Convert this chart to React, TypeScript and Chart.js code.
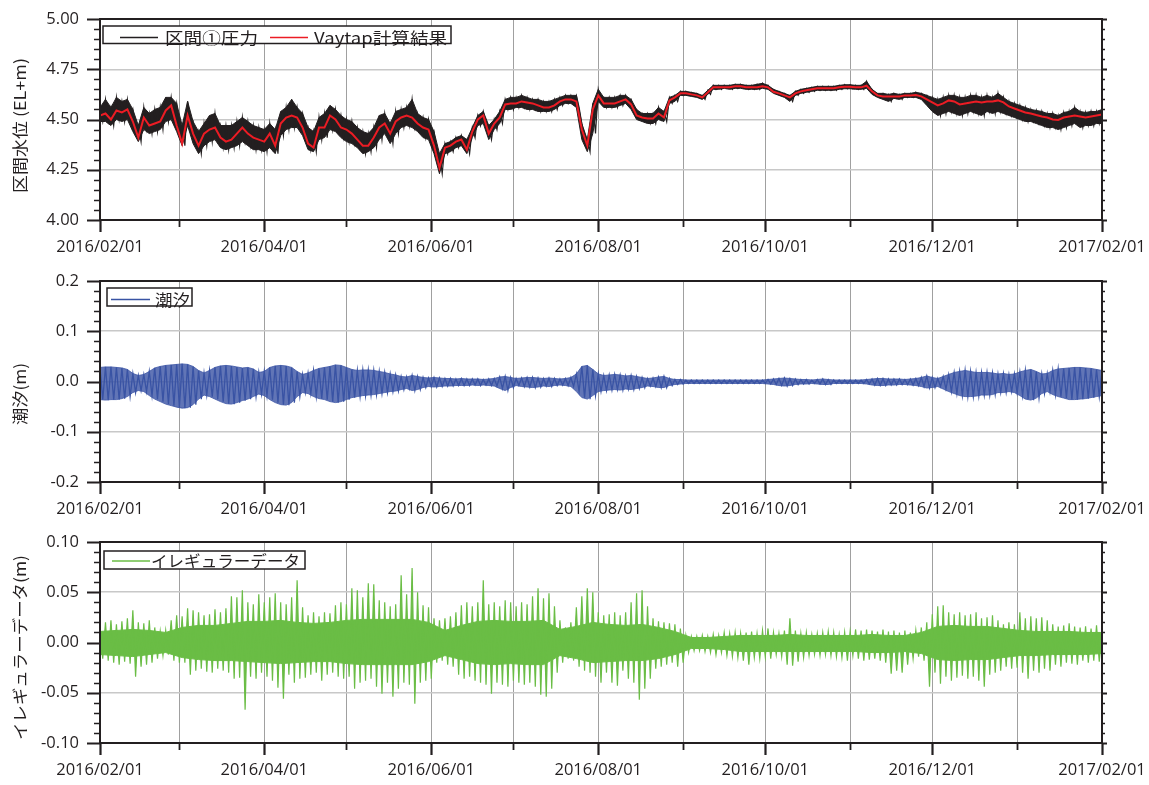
import React, { useEffect, useRef } from 'react';
import { Chart, registerables } from 'chart.js';

Chart.register(...registerables);

// ---------------- DATA ----------------
// Series are sampled in 2-day buckets starting 2016/02/01 (day 0).
const BUCKET_DAYS = 2;
// The dense core of the irregular data is read in 6-day buckets.
const CORE_BUCKET_DAYS = 6;

// x axis: month starts (days since 2016/02/01) and their labels
const monthDays = [0, 29, 60, 90, 121, 151, 182, 213, 243, 274, 304, 335, 366];
const monthLabels = ['2016/02/01', '', '2016/04/01', '', '2016/06/01', '', '2016/08/01', '', '2016/10/01', '', '2016/12/01', '', '2017/02/01'];

// y axes ticks
const pressureTicks = [4.0, 4.25, 4.5, 4.75, 5.0];
const pressureTickLabels = ['4.00', '4.25', '4.50', '4.75', '5.00'];
const tideTicks = [-0.2, -0.1, 0, 0.1, 0.2];
const tideTickLabels = ['-0.2', '-0.1', '0.0', '0.1', '0.2'];
const irregularTicks = [-0.1, -0.05, 0, 0.05, 0.1];
const irregularTickLabels = ['-0.10', '-0.05', '0.00', '0.05', '0.10'];

// Panel 1: Vaytap計算結果 (red)
const vaytapResult = [
  4.52, 4.53, 4.50, 4.545, 4.535, 4.55, 4.49, 4.41, 4.51, 4.47,
  4.48, 4.49, 4.545, 4.57, 4.47, 4.38, 4.52, 4.43, 4.37, 4.43,
  4.45, 4.46, 4.41, 4.39, 4.40, 4.43, 4.46, 4.43, 4.41, 4.40,
  4.39, 4.43, 4.37, 4.48, 4.51, 4.52, 4.51, 4.46, 4.38, 4.36,
  4.46, 4.46, 4.52, 4.50, 4.46, 4.45, 4.43, 4.40, 4.37, 4.37,
  4.41, 4.46, 4.48, 4.43, 4.49, 4.51, 4.52, 4.51, 4.48, 4.46,
  4.45, 4.37, 4.26, 4.36, 4.37, 4.39, 4.40, 4.35, 4.44, 4.50,
  4.52, 4.43, 4.48, 4.51, 4.575, 4.58, 4.58, 4.59, 4.585, 4.58,
  4.57, 4.56, 4.56, 4.57, 4.59, 4.60, 4.60, 4.59, 4.45, 4.37,
  4.55, 4.62, 4.58, 4.58, 4.58, 4.59, 4.60, 4.575, 4.52, 4.51,
  4.505, 4.505, 4.53, 4.51, 4.595, 4.61, 4.63, 4.63, 4.625, 4.62,
  4.61, 4.635, 4.66, 4.66, 4.66, 4.66, 4.665, 4.665, 4.66, 4.66,
  4.66, 4.665, 4.66, 4.638, 4.63, 4.62, 4.61, 4.63, 4.64, 4.645,
  4.65, 4.655, 4.655, 4.655, 4.655, 4.66, 4.663, 4.663, 4.66, 4.66,
  4.668, 4.64, 4.62, 4.615, 4.615, 4.615, 4.615, 4.62, 4.62, 4.622,
  4.615, 4.60, 4.585, 4.57, 4.58, 4.595, 4.59, 4.575, 4.58, 4.585,
  4.59, 4.585, 4.59, 4.59, 4.595, 4.585, 4.565, 4.555, 4.545, 4.535,
  4.53, 4.522, 4.515, 4.51, 4.50, 4.498, 4.51, 4.515, 4.52, 4.515,
  4.51, 4.515, 4.52, 4.525,
];

// Panel 1: 区間①圧力 (black) – bucket maxima and minima
const pressureMax = [
  4.56, 4.60, 4.56, 4.61, 4.59, 4.60, 4.55, 4.47, 4.56, 4.53,
  4.55, 4.56, 4.61, 4.61, 4.58, 4.47, 4.59, 4.49, 4.44, 4.48,
  4.52, 4.53, 4.47, 4.47, 4.47, 4.49, 4.51, 4.49, 4.47, 4.46,
  4.45, 4.48, 4.45, 4.54, 4.56, 4.60, 4.56, 4.53, 4.46, 4.44,
  4.51, 4.53, 4.57, 4.55, 4.52, 4.50, 4.49, 4.46, 4.44, 4.43,
  4.46, 4.52, 4.53, 4.48, 4.54, 4.55, 4.56, 4.60, 4.53, 4.51,
  4.50, 4.44, 4.33, 4.38, 4.39, 4.41, 4.42, 4.40, 4.46, 4.52,
  4.54, 4.47, 4.50, 4.54, 4.60, 4.61, 4.61, 4.62, 4.61, 4.60,
  4.60, 4.59, 4.59, 4.60, 4.61, 4.62, 4.62, 4.62, 4.48, 4.40,
  4.58, 4.65, 4.61, 4.61, 4.61, 4.62, 4.62, 4.60, 4.55, 4.53,
  4.53, 4.53, 4.56, 4.54, 4.61, 4.62, 4.64, 4.64, 4.635, 4.63,
  4.62, 4.645, 4.67, 4.67, 4.67, 4.67, 4.675, 4.675, 4.67, 4.67,
  4.675, 4.68, 4.67, 4.65, 4.64, 4.63, 4.62, 4.64, 4.65, 4.655,
  4.66, 4.665, 4.665, 4.665, 4.665, 4.67, 4.673, 4.673, 4.67, 4.67,
  4.69, 4.65, 4.63, 4.63, 4.625, 4.63, 4.625, 4.63, 4.63, 4.635,
  4.63, 4.62, 4.61, 4.60, 4.61, 4.62, 4.62, 4.61, 4.61, 4.62,
  4.62, 4.61, 4.62, 4.61, 4.63, 4.61, 4.59, 4.58, 4.57, 4.56,
  4.55, 4.545, 4.54, 4.53, 4.53, 4.52, 4.535, 4.54, 4.56, 4.54,
  4.535, 4.54, 4.54, 4.55,
];
const pressureMin = [
  4.49, 4.49, 4.47, 4.50, 4.49, 4.50, 4.44, 4.39, 4.45, 4.43,
  4.44, 4.45, 4.49, 4.50, 4.44, 4.37, 4.47, 4.38, 4.33, 4.37,
  4.39, 4.40, 4.36, 4.35, 4.36, 4.37, 4.39, 4.37, 4.35, 4.35,
  4.34, 4.36, 4.33, 4.42, 4.45, 4.46, 4.46, 4.42, 4.35, 4.34,
  4.40, 4.41, 4.45, 4.44, 4.41, 4.39, 4.38, 4.36, 4.33, 4.34,
  4.36, 4.40, 4.43, 4.38, 4.43, 4.46, 4.47, 4.46, 4.44, 4.41,
  4.40, 4.33, 4.23, 4.33, 4.34, 4.36, 4.37, 4.33, 4.41, 4.47,
  4.48, 4.40, 4.45, 4.48, 4.55, 4.55, 4.56, 4.56, 4.55, 4.55,
  4.54, 4.54, 4.54, 4.55, 4.57, 4.58, 4.58, 4.56, 4.40, 4.34,
  4.43, 4.59, 4.56, 4.56, 4.56, 4.57, 4.58, 4.55, 4.50, 4.49,
  4.48, 4.48, 4.50, 4.49, 4.58, 4.59, 4.62, 4.62, 4.615, 4.61,
  4.60, 4.625, 4.65, 4.65, 4.655, 4.65, 4.655, 4.655, 4.65, 4.65,
  4.65, 4.655, 4.65, 4.63, 4.62, 4.61, 4.59, 4.62, 4.63, 4.635,
  4.64, 4.645, 4.645, 4.645, 4.645, 4.65, 4.653, 4.653, 4.65, 4.65,
  4.655, 4.625, 4.61, 4.60, 4.59, 4.605, 4.60, 4.61, 4.61, 4.61,
  4.60, 4.57, 4.54, 4.52, 4.53, 4.54, 4.53, 4.52, 4.53, 4.54,
  4.53, 4.52, 4.54, 4.53, 4.54, 4.53, 4.52, 4.51, 4.50, 4.49,
  4.49, 4.48, 4.47, 4.46, 4.46, 4.45, 4.46, 4.47, 4.48, 4.46,
  4.47, 4.47, 4.48, 4.48,
];

// Panel 2: 潮汐 – bucket high / low water
const tideHigh = [
  0.028, 0.029, 0.029, 0.028, 0.027, 0.024, 0.016, 0.012, 0.014, 0.020,
  0.027, 0.030, 0.032, 0.033, 0.034, 0.035, 0.034, 0.030, 0.022, 0.017,
  0.022, 0.028, 0.031, 0.032, 0.031, 0.029, 0.027, 0.028, 0.025, 0.018,
  0.020, 0.028, 0.031, 0.032, 0.031, 0.028, 0.020, 0.014, 0.017, 0.022,
  0.026, 0.028, 0.030, 0.033, 0.032, 0.028, 0.024, 0.022, 0.023, 0.023,
  0.022, 0.020, 0.018, 0.015, 0.013, 0.010, 0.009, 0.012, 0.010, 0.008,
  0.007, 0.008, 0.007, 0.006, 0.006, 0.005, 0.006, 0.005, 0.005, 0.005,
  0.004, 0.005, 0.006, 0.009, 0.010, 0.008, 0.006, 0.007, 0.008, 0.008,
  0.007, 0.006, 0.007, 0.006, 0.005, 0.006, 0.008, 0.015, 0.030, 0.032,
  0.024, 0.015, 0.012, 0.013, 0.014, 0.013, 0.011, 0.012, 0.010, 0.008,
  0.006, 0.007, 0.009, 0.010, 0.006, 0.004, 0.004, 0.003, 0.003, 0.003,
  0.003, 0.003, 0.003, 0.003, 0.003, 0.003, 0.003, 0.003, 0.003, 0.003,
  0.003, 0.003, 0.004, 0.005, 0.006, 0.007, 0.006, 0.005, 0.004, 0.004,
  0.003, 0.004, 0.005, 0.004, 0.003, 0.003, 0.003, 0.003, 0.003, 0.003,
  0.004, 0.005, 0.006, 0.006, 0.005, 0.005, 0.005, 0.004, 0.005, 0.006,
  0.008, 0.011, 0.008, 0.006, 0.010, 0.014, 0.018, 0.020, 0.022, 0.020,
  0.018, 0.018, 0.018, 0.017, 0.015, 0.016, 0.014, 0.015, 0.019, 0.022,
  0.024, 0.020, 0.015, 0.016, 0.022, 0.025, 0.026, 0.027, 0.028, 0.028,
  0.027, 0.026, 0.024, 0.022,
];
const tideLow = [
  -0.036, -0.037, -0.036, -0.036, -0.034, -0.030, -0.022, -0.018, -0.020, -0.028,
  -0.035, -0.040, -0.045, -0.048, -0.051, -0.053, -0.052, -0.046, -0.035, -0.027,
  -0.030, -0.035, -0.040, -0.044, -0.045, -0.042, -0.038, -0.035, -0.030, -0.025,
  -0.028, -0.036, -0.042, -0.046, -0.047, -0.042, -0.030, -0.022, -0.024, -0.030,
  -0.034, -0.036, -0.040, -0.042, -0.040, -0.036, -0.032, -0.030, -0.028, -0.027,
  -0.026, -0.024, -0.022, -0.020, -0.019, -0.016, -0.014, -0.018, -0.016, -0.012,
  -0.010, -0.011, -0.010, -0.009, -0.009, -0.008, -0.008, -0.008, -0.007, -0.008,
  -0.007, -0.008, -0.009, -0.014, -0.018, -0.012, -0.008, -0.010, -0.011, -0.012,
  -0.011, -0.009, -0.010, -0.008, -0.007, -0.008, -0.010, -0.020, -0.032, -0.035,
  -0.028, -0.020, -0.018, -0.017, -0.016, -0.017, -0.015, -0.016, -0.014, -0.012,
  -0.009, -0.010, -0.012, -0.012, -0.008, -0.006, -0.005, -0.004, -0.004, -0.004,
  -0.004, -0.004, -0.004, -0.004, -0.004, -0.004, -0.004, -0.004, -0.004, -0.004,
  -0.004, -0.004, -0.005, -0.006, -0.008, -0.009, -0.008, -0.006, -0.005, -0.005,
  -0.004, -0.005, -0.006, -0.006, -0.004, -0.004, -0.004, -0.004, -0.004, -0.004,
  -0.005, -0.007, -0.008, -0.008, -0.007, -0.007, -0.006, -0.006, -0.007, -0.008,
  -0.010, -0.013, -0.012, -0.010, -0.015, -0.020, -0.024, -0.028, -0.030, -0.030,
  -0.029, -0.027, -0.027, -0.026, -0.022, -0.022, -0.020, -0.022, -0.028, -0.035,
  -0.037, -0.033, -0.024, -0.020, -0.026, -0.030, -0.033, -0.036, -0.036, -0.035,
  -0.034, -0.032, -0.030, -0.028,
];

// Panel 3: イレギュラーデータ – bucket maxima / minima (spikes)
const irregularHigh = [
  0.012, 0.020, 0.022, 0.018, 0.021, 0.024, 0.032, 0.020, 0.019, 0.022,
  0.015, 0.011, 0.012, 0.022, 0.027, 0.026, 0.034, 0.032, 0.030, 0.027,
  0.028, 0.033, 0.030, 0.034, 0.046, 0.045, 0.052, 0.040, 0.038, 0.048,
  0.040, 0.045, 0.049, 0.040, 0.038, 0.045, 0.062, 0.035, 0.027, 0.030,
  0.026, 0.030, 0.029, 0.037, 0.040, 0.038, 0.054, 0.052, 0.045, 0.059,
  0.058, 0.042, 0.040, 0.036, 0.038, 0.067, 0.048, 0.074, 0.050, 0.037,
  0.035, 0.024, 0.022, 0.024, 0.026, 0.030, 0.037, 0.040, 0.036, 0.040,
  0.062, 0.038, 0.040, 0.036, 0.042, 0.040, 0.036, 0.040, 0.038, 0.046,
  0.054, 0.044, 0.049, 0.036, 0.022, 0.015, 0.020, 0.035, 0.046, 0.054,
  0.050, 0.030, 0.027, 0.028, 0.030, 0.027, 0.030, 0.040, 0.049, 0.052,
  0.036, 0.024, 0.021, 0.020, 0.019, 0.018, 0.014, 0.007, 0.006, 0.006,
  0.007, 0.006, 0.008, 0.007, 0.010, 0.009, 0.010, 0.009, 0.010, 0.011,
  0.009, 0.012, 0.014, 0.010, 0.009, 0.012, 0.024, 0.012, 0.009, 0.010,
  0.008, 0.009, 0.010, 0.011, 0.010, 0.008, 0.010, 0.011, 0.013, 0.012,
  0.013, 0.012, 0.011, 0.013, 0.011, 0.012, 0.010, 0.012, 0.010, 0.012,
  0.015, 0.020, 0.028, 0.036, 0.037, 0.030, 0.028, 0.030, 0.027, 0.028,
  0.030, 0.024, 0.025, 0.027, 0.022, 0.018, 0.020, 0.018, 0.030, 0.024,
  0.026, 0.024, 0.025, 0.022, 0.018, 0.016, 0.017, 0.019, 0.016, 0.015,
  0.016, 0.014, 0.017, 0.012,
];
const irregularLow = [
  -0.016, -0.018, -0.020, -0.022, -0.019, -0.021, -0.034, -0.024, -0.022, -0.020,
  -0.016, -0.013, -0.012, -0.018, -0.020, -0.020, -0.032, -0.028, -0.026, -0.029,
  -0.030, -0.026, -0.028, -0.030, -0.036, -0.035, -0.067, -0.034, -0.036, -0.030,
  -0.034, -0.038, -0.045, -0.056, -0.032, -0.040, -0.036, -0.035, -0.032, -0.030,
  -0.038, -0.032, -0.030, -0.034, -0.036, -0.034, -0.046, -0.040, -0.038, -0.036,
  -0.044, -0.051, -0.040, -0.054, -0.046, -0.040, -0.042, -0.061, -0.040, -0.038,
  -0.036, -0.020, -0.018, -0.022, -0.024, -0.032, -0.036, -0.034, -0.038, -0.040,
  -0.042, -0.051, -0.040, -0.042, -0.044, -0.038, -0.040, -0.042, -0.040, -0.044,
  -0.052, -0.054, -0.046, -0.030, -0.020, -0.016, -0.018, -0.024, -0.028, -0.030,
  -0.034, -0.040, -0.030, -0.040, -0.043, -0.028, -0.036, -0.040, -0.057, -0.046,
  -0.036, -0.026, -0.024, -0.022, -0.020, -0.024, -0.020, -0.010, -0.008, -0.008,
  -0.009, -0.010, -0.012, -0.010, -0.013, -0.014, -0.015, -0.018, -0.022, -0.015,
  -0.016, -0.014, -0.016, -0.012, -0.014, -0.022, -0.023, -0.019, -0.015, -0.013,
  -0.012, -0.013, -0.012, -0.013, -0.014, -0.015, -0.018, -0.013, -0.016, -0.018,
  -0.017, -0.016, -0.018, -0.020, -0.031, -0.028, -0.030, -0.022, -0.016, -0.014,
  -0.018, -0.044, -0.030, -0.041, -0.034, -0.038, -0.035, -0.033, -0.036, -0.034,
  -0.038, -0.044, -0.032, -0.030, -0.028, -0.024, -0.026, -0.025, -0.030, -0.036,
  -0.028, -0.030, -0.026, -0.028, -0.022, -0.024, -0.020, -0.021, -0.022, -0.018,
  -0.020, -0.018, -0.019, -0.016,
];
// Panel 3: dense core of the irregular data (6-day buckets)
const irregularCoreHigh = [
  0.011, 0.012, 0.013, 0.012, 0.010, 0.015, 0.017, 0.017, 0.019, 0.021,
  0.021, 0.022, 0.020, 0.019, 0.020, 0.022, 0.023, 0.023, 0.023, 0.023,
  0.020, 0.012, 0.017, 0.021, 0.022, 0.021, 0.021, 0.022, 0.013, 0.016,
  0.020, 0.018, 0.017, 0.018, 0.015, 0.011, 0.005, 0.005, 0.006, 0.007,
  0.007, 0.007, 0.008, 0.007, 0.007, 0.007, 0.007, 0.008, 0.007, 0.007,
  0.010, 0.016, 0.017, 0.016, 0.016, 0.014, 0.012, 0.011, 0.011, 0.011,
  0.010, 0.010,
];
const irregularCoreLow = [
  -0.012, -0.013, -0.014, -0.012, -0.010, -0.015, -0.017, -0.018, -0.018, -0.019,
  -0.020, -0.021, -0.020, -0.019, -0.019, -0.021, -0.022, -0.022, -0.022, -0.022,
  -0.019, -0.013, -0.017, -0.021, -0.022, -0.021, -0.022, -0.022, -0.013, -0.016,
  -0.020, -0.019, -0.018, -0.018, -0.016, -0.012, -0.006, -0.006, -0.007, -0.009,
  -0.009, -0.009, -0.009, -0.009, -0.009, -0.009, -0.009, -0.010, -0.010, -0.009,
  -0.011, -0.017, -0.018, -0.017, -0.017, -0.015, -0.013, -0.013, -0.012, -0.012,
  -0.012, -0.011,
];

// ---------------- STYLE ----------------
const INK = '#231f20';
const RED = '#ec1c24';
const BLUE = '#3953a4';
const BLUE_FILL = 'rgba(57,83,164,0.8)';
const GREEN = '#6abd45';
const TICK_FONT = { family: '"Open Sans", "DejaVu Sans", sans-serif', size: 16.5 };
const JP_FONT = '16px "Noto Sans CJK JP", "Noto Sans", sans-serif';

type Point = { x: number; y: number };
const asLine = (vals: number[], step: number = BUCKET_DAYS): Point[] => vals.map((v, k) => ({ x: k * step, y: v }));
const asEnvelope = (hi: number[], lo: number[]): Point[] =>
  hi.flatMap((h, k) => [
    { x: k * BUCKET_DAYS, y: h },
    { x: k * BUCKET_DAYS + BUCKET_DAYS / 2, y: lo[k] },
  ]);

const bandEdge = (data: Point[], color: string, fill: any) => ({
  data,
  borderColor: color,
  backgroundColor: color,
  borderWidth: 1,
  pointRadius: 0,
  fill,
});

type LegendItem = { color: string; lineFrom: number; lineTo: number; text: string; textX: number; textW: number };
type PanelSpec = {
  top: number;
  height: number;
  yMin: number;
  yMax: number;
  yTicks: number[];
  yTickLabels: string[];
  minorCount: number;
  minorPerMajor: number;
  title: string;
  titleCenterY: number;
  titleLength: number;
  legendBox: [number, number, number, number];
  legendY: number;
  legend: LegendItem[];
  datasets: any[];
};

const panels: PanelSpec[] = [
  {
    top: 0,
    height: 262,
    yMin: 4,
    yMax: 5,
    yTicks: pressureTicks,
    yTickLabels: pressureTickLabels,
    minorCount: 20,
    minorPerMajor: 5,
    title: '区間水位 (EL+m)',
    titleCenterY: 125.5,
    titleLength: 135,
    legendBox: [103, 26, 451, 43.5],
    legendY: 37.5,
    legend: [
      { color: INK, lineFrom: 120, lineTo: 158, text: '区間①圧力', textX: 165, textW: 93 },
      { color: RED, lineFrom: 270, lineTo: 308, text: 'Vaytap計算結果', textX: 314, textW: 133 },
    ],
    datasets: [
      { data: asLine(vaytapResult), borderColor: RED, borderWidth: 2, pointRadius: 0, fill: false },
      { data: asEnvelope(pressureMax, pressureMin), borderColor: INK, borderWidth: 1.2, pointRadius: 0, fill: false },
      bandEdge(asLine(pressureMax), INK, '+1'),
      bandEdge(asLine(pressureMin), INK, false),
    ],
  },
  {
    top: 262,
    height: 261,
    yMin: -0.2,
    yMax: 0.2,
    yTicks: tideTicks,
    yTickLabels: tideTickLabels,
    minorCount: 20,
    minorPerMajor: 5,
    title: '潮汐(m)',
    titleCenterY: 132,
    titleLength: 62,
    legendBox: [107, 26, 192, 44],
    legendY: 37.5,
    legend: [{ color: BLUE, lineFrom: 111, lineTo: 150, text: '潮汐', textX: 155, textW: 35 }],
    datasets: [
      { data: asEnvelope(tideHigh, tideLow), borderColor: BLUE, borderWidth: 1.3, pointRadius: 0, fill: false },
      bandEdge(asLine(tideHigh), BLUE_FILL, '+1'),
      bandEdge(asLine(tideLow), BLUE_FILL, false),
    ],
  },
  {
    top: 523,
    height: 262,
    yMin: -0.1,
    yMax: 0.1,
    yTicks: irregularTicks,
    yTickLabels: irregularTickLabels,
    minorCount: 20,
    minorPerMajor: 5,
    title: 'イレギュラーデータ(m)',
    titleCenterY: 124.5,
    titleLength: 185,
    legendBox: [104, 28, 305, 46],
    legendY: 38,
    legend: [{ color: GREEN, lineFrom: 112, lineTo: 150, text: 'イレギュラーデータ', textX: 151, textW: 149 }],
    datasets: [
      {
        data: asEnvelope(irregularHigh, irregularLow),
        borderColor: GREEN,
        backgroundColor: GREEN,
        borderWidth: 1.2,
        pointRadius: 0,
        fill: { target: 'origin', above: GREEN, below: GREEN },
      },
      bandEdge(asLine(irregularCoreHigh, CORE_BUCKET_DAYS), GREEN, '+1'),
      bandEdge(asLine(irregularCoreLow, CORE_BUCKET_DAYS), GREEN, false),
    ],
  },
];

function drawStretchedText(ctx: CanvasRenderingContext2D, text: string, x: number, y: number, width: number, align: 'left' | 'center') {
  ctx.font = JP_FONT;
  const natural = ctx.measureText(text).width || 1;
  const sx = width / natural;
  ctx.save();
  ctx.translate(x, y);
  ctx.scale(sx, 1);
  ctx.textAlign = align;
  ctx.textBaseline = 'middle';
  ctx.fillStyle = INK;
  ctx.fillText(text, 0, 0);
  ctx.restore();
}

function makeDecor(p: PanelSpec) {
  return {
    id: 'decor',
    afterDatasetsDraw(chart: any) {
      const { ctx, chartArea: a, scales } = chart;
      const ys = scales.y;
      const xs = scales.x;
      ctx.save();
      ctx.strokeStyle = INK;
      ctx.lineCap = 'butt';
      for (let i = 0; i <= p.minorCount; i++) {
        const v = p.yMin + (i * (p.yMax - p.yMin)) / p.minorCount;
        const py = Math.round(ys.getPixelForValue(v)) + 0.5;
        const major = i % p.minorPerMajor === 0;
        ctx.lineWidth = major ? 2 : 1.6;
        ctx.beginPath();
        ctx.moveTo(a.left - (major ? 13 : 6), py);
        ctx.lineTo(a.left, py);
        ctx.moveTo(a.right, py);
        ctx.lineTo(a.right + (major ? 5 : 3), py);
        ctx.stroke();
      }
      monthDays.forEach((d, i) => {
        const px = Math.round(xs.getPixelForValue(d)) + 0.5;
        ctx.lineWidth = monthLabels[i] ? 2.2 : 1.8;
        ctx.beginPath();
        ctx.moveTo(px, a.bottom);
        ctx.lineTo(px, a.bottom + (monthLabels[i] ? 12 : 7));
        ctx.stroke();
      });
      ctx.lineWidth = 2;
      ctx.strokeRect(a.left, a.top, a.right - a.left, a.bottom - a.top);

      const [bx0, by0, bx1, by1] = p.legendBox;
      ctx.fillStyle = '#ffffff';
      ctx.fillRect(bx0, by0, bx1 - bx0, by1 - by0);
      ctx.lineWidth = 1.5;
      ctx.strokeStyle = INK;
      ctx.strokeRect(bx0, by0, bx1 - bx0, by1 - by0);
      p.legend.forEach((it) => {
        ctx.strokeStyle = it.color;
        ctx.lineWidth = 1.6;
        ctx.beginPath();
        ctx.moveTo(it.lineFrom, p.legendY);
        ctx.lineTo(it.lineTo, p.legendY);
        ctx.stroke();
        drawStretchedText(ctx, it.text, it.textX, p.legendY, it.textW, 'left');
      });

      ctx.save();
      ctx.translate(20, p.titleCenterY);
      ctx.rotate(-Math.PI / 2);
      drawStretchedText(ctx, p.title, 0, 0, p.titleLength, 'center');
      ctx.restore();
      ctx.restore();
    },
  };
}

function buildConfig(p: PanelSpec): any {
  return {
    type: 'line',
    data: { datasets: p.datasets },
    options: {
      responsive: false,
      animation: false,
      devicePixelRatio: 1,
      events: [],
      layout: { padding: { top: 19, right: 47, left: 0, bottom: 0 } },
      elements: { line: { tension: 0 }, point: { radius: 0 } },
      plugins: { legend: { display: false }, tooltip: { enabled: false }, title: { display: false } },
      scales: {
        x: {
          type: 'linear',
          min: 0,
          max: 366,
          afterBuildTicks: (s: any) => {
            s.ticks = monthDays.map((v) => ({ value: v }));
          },
          afterFit: (s: any) => {
            s.height = p.height - 220;
            s.paddingLeft = 0;
            s.paddingRight = 0;
            s.paddingTop = 0;
            s.paddingBottom = 0;
          },
          ticks: {
            autoSkip: false,
            maxRotation: 0,
            minRotation: 0,
            padding: 17,
            color: INK,
            font: TICK_FONT,
            callback: (_v: any, i: number) => monthLabels[i],
          },
          grid: { color: '#a0a0a0', lineWidth: 1, drawTicks: false },
          border: { display: false },
        },
        y: {
          type: 'linear',
          min: p.yMin,
          max: p.yMax,
          afterBuildTicks: (s: any) => {
            s.ticks = p.yTicks.map((v) => ({ value: v }));
          },
          afterFit: (s: any) => {
            s.width = 100;
            s.paddingLeft = 0;
            s.paddingRight = 0;
            s.paddingTop = 0;
            s.paddingBottom = 0;
          },
          ticks: {
            padding: 21,
            color: INK,
            font: TICK_FONT,
            callback: (_v: any, i: number) => p.yTickLabels[i],
          },
          grid: { color: '#c8c8c8', lineWidth: 1.5, drawTicks: false },
          border: { display: false },
        },
      },
    },
    plugins: [makeDecor(p)],
  };
}

function Panel({ spec }: { spec: PanelSpec }) {
  const ref = useRef<HTMLCanvasElement | null>(null);
  useEffect(() => {
    if (!ref.current) return;
    const chart = new Chart(ref.current, buildConfig(spec));
    return () => chart.destroy();
  }, [spec]);
  return (
    <canvas
      ref={ref}
      width={1149}
      height={spec.height}
      style={{ position: 'absolute', left: 0, top: spec.top, width: 1149, height: spec.height, display: 'block' }}
    />
  );
}

export default function App() {
  return (
    <div style={{ position: 'absolute', left: 0, top: 0, width: 1149, height: 785, background: '#ffffff', overflow: 'hidden' }}>
      {panels.map((p, i) => (
        <Panel key={i} spec={p} />
      ))}
    </div>
  );
}
